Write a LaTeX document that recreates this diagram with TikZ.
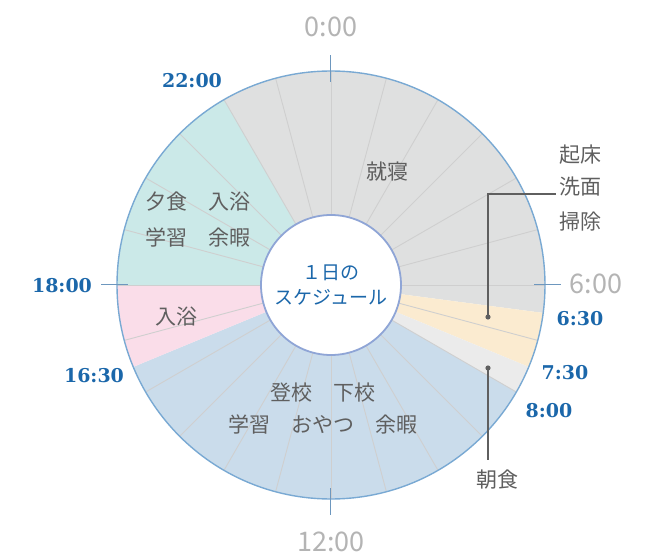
\documentclass[tikz,border=0pt]{standalone}
\usepackage{fontspec}
\usepackage{xcolor}
\usepackage{tikz}
\usetikzlibrary{positioning,calc}
\newfontfamily\jp{Noto Sans CJK JP}
\newfontfamily\tserif{DejaVu Serif}
\definecolor{sleepgray}{HTML}{DFE0E0}
\definecolor{eveteal}{HTML}{CBE9E8}
\definecolor{bathpink}{HTML}{FADDE9}
\definecolor{schoolblue}{HTML}{CADCEB}
\definecolor{mornyellow}{HTML}{FBEBD0}
\definecolor{bfgray}{HTML}{EBEBEB}
\definecolor{rimblue}{HTML}{79A9D3}
\definecolor{innerrim}{HTML}{8FA5D6}
\definecolor{timeblue}{HTML}{1B67AA}
\definecolor{textgray}{HTML}{5F5F5F}
\definecolor{clockgray}{HTML}{B4B4B4}
\definecolor{tickblue}{HTML}{6D97BE}
\tikzset{hourline/.style={draw=black!19, line width=0.9pt}}
\tikzset{hourtick/.style={draw=tickblue, line width=1pt}}
\tikzset{clocklbl/.style={text=clockgray, inner sep=0pt, font=\jp\fontsize{27}{30}\selectfont}}
\tikzset{timelbl/.style={text=timeblue, inner sep=0pt, font=\tserif\bfseries\fontsize{19}{20}\selectfont}}
\tikzset{actlbl/.style={text=textgray, inner sep=0pt, align=center, font=\jp\fontsize{21}{36}\selectfont}}
\tikzset{callout/.style={draw=textgray, line width=1.1pt}}
\newcommand{\daysector}[3]{\fill[#1] (0,0) -- ({90-15*#2}:214pt)
    arc[start angle={90-15*#2}, end angle={90-15*#3}, radius=214pt] -- cycle;}
\begin{document}
\begin{tikzpicture}[x=1pt, y=1pt]
    \useasboundingbox (-331,-269) rectangle (325,285);
    %
    \daysector{sleepgray}{22}{30.5}
    \daysector{mornyellow}{6.5}{7.5}
    \daysector{bfgray}{7.5}{8}
    \daysector{schoolblue}{8}{16.5}
    \daysector{bathpink}{16.5}{18}
    \daysector{eveteal}{18}{22}
    %
    \foreach \h in {0,...,23}
        \draw[hourline] ({90-15*\h}:70pt) -- ({90-15*\h}:214pt);
    \draw[rimblue, line width=1.4pt] (0,0) circle[radius=214pt];
    \foreach \h in {0,6,12,18}
        \draw[hourtick] ({90-15*\h}:203pt) -- ({90-15*\h}:230pt);
    %
    \node[circle, fill=white, draw=innerrim, line width=1.8pt,
        minimum size=140pt, inner sep=0pt, align=center, text=timeblue,
        font=\jp\fontsize{19}{25}\selectfont] (hub) at (0,0) {１日の\\スケジュール};
    %
    \node[clocklbl] (t0) at (0,258) {0:00};
    \node[clocklbl] (t6) at (265,1) {6:00};
    \node[clocklbl] (t12) at (0,-257) {12:00};
    \node[timelbl] (t18) at (-269,-1) {18:00};
    \node[timelbl] (t22) at (-139,204) {22:00};
    \node[timelbl] (t1630) at (-237,-91) {16:30};
    \node[timelbl] (t630) at (249,-34) {6:30};
    \node[timelbl] (t730) at (234,-88) {7:30};
    \node[timelbl] (t800) at (218,-126) {8:00};
    %
    \node[actlbl] (sleep) at (57,113) {就寝};
    \node[actlbl] (evening) at (-133,65) {夕食　入浴\\学習　余暇};
    \node[actlbl] (bath) at (-154,-32) {入浴};
    \node[actlbl, font=\jp\fontsize{21}{32}\selectfont] (school) at (-8,-124)
        {登校　下校\\学習　おやつ　余暇};
    \node[actlbl] (wake) at (249,130) {起床};
    \node[actlbl] (wash) at (249,98) {洗面};
    \node[actlbl] (clean) at (249,63) {掃除};
    \node[actlbl] (breakfast) at (166,-195) {朝食};
    %
    \coordinate (wakedot) at (157,-32);
    \coordinate (bfdot) at (157,-83);
    \coordinate (washend) at ([xshift=-3pt, yshift=-7pt]wash.west);
    \coordinate (bfend) at ([yshift=10pt]bfdot |- breakfast.north);
    \draw[callout] (washend) -- (wakedot |- washend) -- (wakedot);
    \fill[textgray] (wakedot) circle[radius=2.6pt];
    \draw[callout] (bfdot) -- (bfend);
    \fill[textgray] (bfdot) circle[radius=2.6pt];
    %
\end{tikzpicture}
\end{document}
